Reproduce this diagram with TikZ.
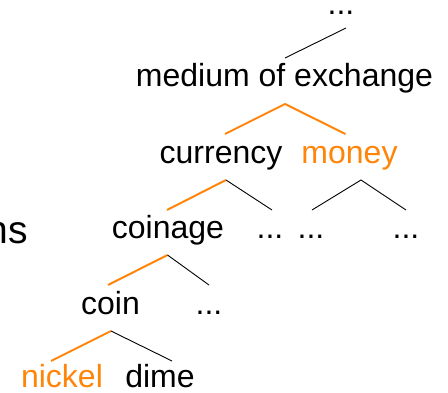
\documentclass[tikz,border=0pt]{standalone}
\usepackage{fontspec}
\setmainfont{Liberation Sans}
\definecolor{hiorange}{RGB}{255,133,10}
\tikzset{
  word/.style={anchor=base, inner sep=0pt, font=\fontsize{32}{38}\selectfont},
  hiword/.style={word, text=hiorange},
  bigword/.style={anchor=base east, inner sep=0pt, font=\fontsize{39}{46}\selectfont},
  plainedge/.style={draw=black, line width=0.9pt},
  hiedge/.style={draw=hiorange, line width=2pt},
}
\begin{document}
\begin{tikzpicture}[x=1pt,y=-1pt]
\useasboundingbox (0,0) rectangle (448,393);
% words
\node[word, text height=4pt] (top) at (341,15) {...};
\node[word] (medium) at (284.5,87) {medium of exchange};
\node[word] (currency) at (221,164) {currency};
\node[hiword] (money) at (349.5,164) {money};
\node[word] (coinage) at (168,239) {coinage};
\node[word] (d1) at (270,239) {...};
\node[word] (d2) at (311,239) {...};
\node[word] (d3) at (406,239) {...};
\node[word] (coin) at (110.5,315) {coin};
\node[word] (d4) at (209,315) {...};
\node[hiword] (nickel) at (62,388) {nickel};
\node[word] (dime) at (160,388) {dime};
\node[bigword] (ns) at (28,243.5) {ns};
% connector points
\coordinate (topA) at (346,28);
\coordinate (topB) at (285,58);
\coordinate (medA) at (285,104);
\coordinate (medL) at (225,134);
\coordinate (medR) at (345.5,134);
\coordinate (curA) at (226,180);
\coordinate (curL) at (167,210);
\coordinate (curR) at (272,210);
\coordinate (monA) at (361,180);
\coordinate (monL) at (312,210);
\coordinate (monR) at (406,210);
\coordinate (cgA) at (167.5,255);
\coordinate (cgL) at (108,285);
\coordinate (cgR) at (209,285);
\coordinate (coA) at (111,331);
\coordinate (coL) at (51,361);
\coordinate (coR) at (172,361);
% connectors
\draw[plainedge] (topA) -- (topB);
\draw[hiedge] (medL) -- (medA) -- (medR);
\draw[hiedge] (curL) -- (curA);
\draw[plainedge] (curA) -- (curR);
\draw[plainedge] (monL) -- (monA) -- (monR);
\draw[hiedge] (cgL) -- (cgA);
\draw[plainedge] (cgA) -- (cgR);
\draw[hiedge] (coL) -- (coA);
\draw[plainedge] (coA) -- (coR);
\end{tikzpicture}
\end{document}
